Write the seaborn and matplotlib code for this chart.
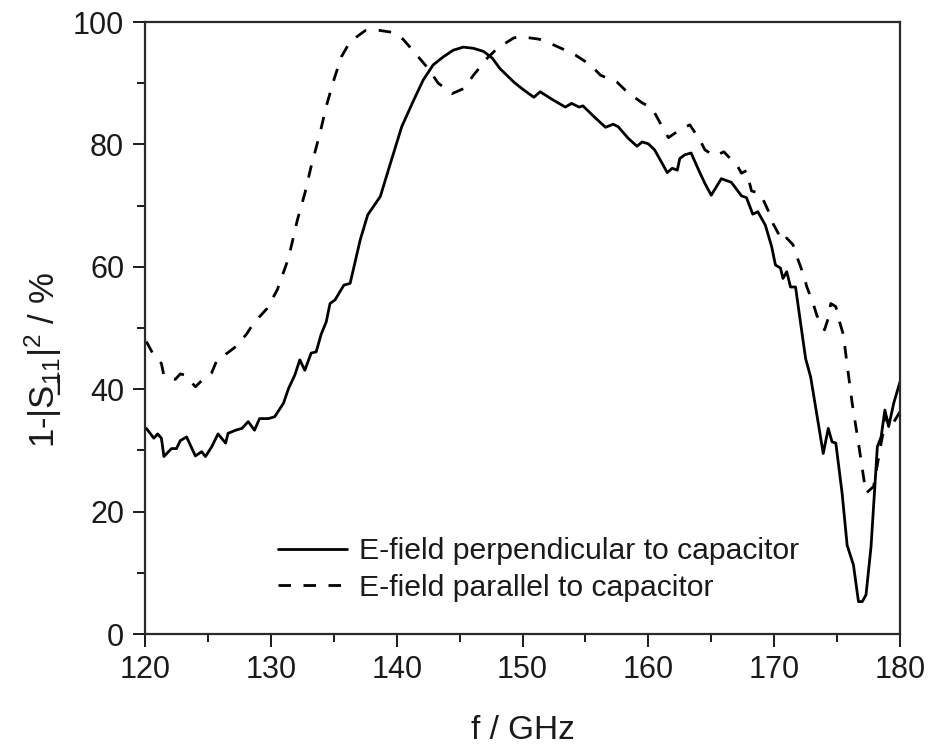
import numpy as np
import pandas as pd
import matplotlib
matplotlib.use("Agg")
import matplotlib.pyplot as plt
import seaborn as sns

# ---- data ----
perp_f = [120.1, 120.7, 121.0, 121.3, 121.5, 122.1, 122.5, 122.8, 123.3, 124.0, 124.5, 124.8,
          125.3, 125.8, 126.4, 126.6, 127.2, 127.7, 128.2, 128.7, 129.1, 129.8, 130.3, 131.0,
          131.4, 131.9, 132.3, 132.7, 133.2, 133.6, 134.0, 134.4, 134.7, 135.1, 135.8, 136.3,
          137.1, 137.7, 138.7, 139.5, 140.4, 141.3, 142.1, 142.9, 143.7, 144.5, 145.3, 146.1,
          146.9, 147.6, 148.2, 148.6, 149.3, 149.9, 150.9, 151.4, 152.4, 153.4, 153.9, 154.5,
          154.8, 155.8, 156.6, 157.2, 157.6, 158.4, 159.1, 159.5, 160.0, 160.5, 161.1, 161.5,
          161.9, 162.3, 162.5, 162.9, 163.4, 164.0, 164.5, 165.0, 165.8, 166.6, 167.4, 167.8,
          168.3, 168.7, 169.3, 169.8, 170.1, 170.5, 170.7, 171.0, 171.3, 171.7, 172.1, 172.5,
          172.9, 173.9, 174.3, 174.6, 174.9, 175.4, 175.8, 176.3, 176.7, 177.0, 177.3, 177.7,
          178.2, 178.5, 178.8, 179.1, 179.5, 180.0]
perp_v = [33.6, 32.0, 32.7, 32.0, 29.0, 30.3, 30.3, 31.6, 32.2, 29.1, 29.8, 29.0,
          30.6, 32.7, 31.2, 32.8, 33.3, 33.6, 34.7, 33.3, 35.2, 35.2, 35.5, 37.7,
          40.1, 42.3, 44.8, 43.1, 45.9, 46.1, 49.0, 51.0, 54.0, 54.6, 57.0, 57.3,
          64.4, 68.5, 71.5, 76.9, 82.9, 87.0, 90.5, 93.0, 94.3, 95.4, 95.9, 95.7,
          95.2, 94.1, 92.4, 91.6, 90.2, 89.2, 87.7, 88.6, 87.3, 86.1, 86.7, 86.1,
          86.3, 84.3, 82.8, 83.3, 82.9, 81.0, 79.7, 80.4, 80.1, 79.1, 76.9, 75.4,
          76.1, 75.8, 77.7, 78.3, 78.6, 75.8, 73.6, 71.7, 74.4, 73.8, 71.6, 71.3,
          68.6, 69.0, 66.8, 63.3, 60.3, 59.8, 58.1, 59.2, 56.7, 56.7, 50.8, 45.0,
          42.0, 29.5, 33.6, 31.4, 31.2, 23.0, 14.5, 11.3, 5.3, 5.3, 6.4, 14.3,
          30.6, 32.2, 36.6, 33.9, 37.7, 41.2]

par_f = [120.1, 120.6, 121.3, 121.5, 122.4, 122.8, 123.2, 124.0, 124.5, 125.3, 125.7, 126.6,
         127.3, 128.1, 128.6, 129.7, 130.5, 131.4, 132.1, 132.7, 133.2, 133.9, 134.4, 135.0,
         135.6, 136.3, 137.5, 138.4, 139.7, 140.5, 141.6, 142.5, 143.3, 144.4, 145.3, 146.1,
         147.2, 148.0, 149.3, 149.9, 151.3, 152.1, 153.4, 154.2, 155.4, 156.2, 157.5, 158.3,
         159.5, 160.3, 161.1, 161.6, 162.5, 163.3, 164.1, 164.5, 165.3, 166.0, 167.1, 167.4,
         167.8, 168.2, 168.9, 169.5, 169.9, 170.5, 170.7, 171.0, 171.5, 171.8, 172.3, 172.6,
         173.1, 173.4, 174.0, 174.3, 174.5, 174.9, 175.2, 175.5, 175.8, 176.2, 176.7, 177.1,
         177.3, 177.9, 178.5, 178.9, 179.2, 180.0]
par_v = [47.8, 45.9, 44.2, 42.2, 41.6, 42.5, 42.3, 40.4, 41.4, 42.7, 44.7, 46.0,
         47.1, 49.1, 50.7, 53.2, 56.2, 61.4, 67.6, 72.0, 76.4, 81.8, 86.2, 90.5,
         94.3, 96.8, 98.6, 98.7, 98.3, 97.2, 94.6, 92.4, 90.0, 88.3, 89.1, 91.3,
         94.1, 95.7, 97.4, 97.6, 97.2, 96.6, 95.4, 94.6, 93.0, 91.3, 90.2, 88.6,
         86.8, 85.9, 82.9, 81.1, 82.4, 83.2, 80.7, 79.1, 78.1, 78.8, 76.4, 75.3,
         75.7, 72.4, 72.0, 69.3, 67.1, 64.8, 64.1, 64.7, 63.6, 61.7, 58.9, 56.7,
         54.0, 52.0, 49.7, 51.6, 54.0, 53.5, 51.0, 48.9, 44.0, 37.7, 31.2, 25.7,
         23.0, 24.1, 31.2, 35.5, 33.6, 36.3]

series_names = ["E-field perpendicular to capacitor", "E-field parallel to capacitor"]
x_ticks = [120, 130, 140, 150, 160, 170, 180]
y_ticks = [0, 20, 40, 60, 80, 100]
x_label = "f / GHz"

# ---- style ----
sns.set_style("ticks")
plt.rcParams['font.family'] = ['Liberation Sans', 'DejaVu Sans']
plt.rcParams['mathtext.fontset'] = 'custom'
plt.rcParams['mathtext.rm'] = 'Liberation Sans'
plt.rcParams['mathtext.it'] = 'Liberation Sans:italic'
plt.rcParams['mathtext.bf'] = 'Liberation Sans:bold'
TXT = '#1a1a1a'

df = pd.concat([
    pd.DataFrame({"f": perp_f, "v": perp_v, "s": series_names[0]}),
    pd.DataFrame({"f": par_f, "v": par_v, "s": series_names[1]}),
], ignore_index=True)

fig = plt.figure(figsize=(9.37, 7.46), dpi=100)
ax = fig.add_axes([0.1548, 0.1501, 0.8057, 0.8204])

sns.lineplot(data=df, x="f", y="v", hue="s", style="s",
             palette=["black", "black"],
             dashes={series_names[0]: "", series_names[1]: (4.5, 4.5)},
             linewidth=2.0, ax=ax, sort=False, estimator=None)

ax.set_xlim(120, 180)
ax.set_ylim(0, 100)
ax.set_xticks(x_ticks)
ax.set_yticks(y_ticks)
ax.set_xticks(np.arange(125, 180, 10), minor=True)
ax.set_yticks(np.arange(10, 100, 20), minor=True)
ax.tick_params(axis='both', which='major', direction='out', length=9, width=1.4,
               labelsize=22, pad=6, colors=TXT)
ax.tick_params(axis='both', which='minor', direction='out', length=5.5, width=1.4, colors=TXT)
for sp in ax.spines.values():
    sp.set_linewidth(1.6)
    sp.set_color('#2a2a2a')
    sp.set_visible(True)

ax.set_xlabel(x_label, fontsize=24, color=TXT)
ax.xaxis.set_label_coords(0.5, -0.133)

ylab_ul = r'1-|$\underline{\mathrm{S}}_{11}$|$^{2}$ / %'
ylab_fb = '1-|$\\mathrm{S\u0332}_{11}$|$^{2}$ / %'
ax.set_ylabel(ylab_ul, fontsize=25, color=TXT)
try:
    fig.canvas.draw()
except Exception:
    ax.set_ylabel(ylab_fb, fontsize=25, color=TXT)
ax.yaxis.set_label_coords(-0.108, 0.448)

leg = ax.legend(loc='upper left', bbox_to_anchor=(0.176, 0.158), frameon=False,
                fontsize=21.7, handlelength=2.3, handletextpad=0.4, borderpad=0,
                borderaxespad=0, labelspacing=0.28)
for t in leg.get_texts():
    t.set_color(TXT)
for line in leg.get_lines():
    line.set_linewidth(2.0)

fig.savefig("out.png", dpi=100)
